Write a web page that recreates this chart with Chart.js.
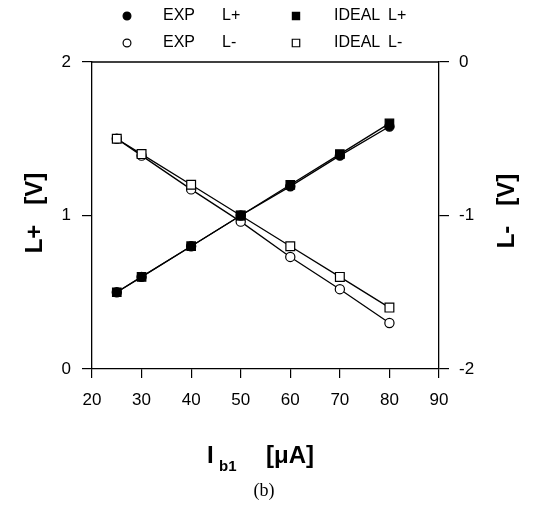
<!DOCTYPE html>
<html>
<head>
<meta charset="utf-8">
<script src="https://cdn.jsdelivr.net/npm/chart.js@4"></script>
<style>
  html, body { margin: 0; padding: 0; background: #fff; }
  canvas { display: block; }
</style>
</head>
<body>
<canvas id="chart" width="541" height="518"></canvas>
<script>
// bias current Ib1 [uA]
const ib1 = [25, 30, 40, 50, 60, 70, 80];
// L+ [V], left axis
const expLplus = [0.5, 0.6, 0.8, 1.0, 1.19, 1.39, 1.58];
const idealLplus = [0.5, 0.6, 0.8, 1.0, 1.2, 1.4, 1.6];
// L- [V], right axis
const expLminus = [-0.5, -0.61, -0.83, -1.04, -1.27, -1.48, -1.7];
const idealLminus = [-0.5, -0.6, -0.8, -1.0, -1.2, -1.4, -1.6];

const xTicks = [20, 30, 40, 50, 60, 70, 80, 90];
const leftTicks = [0, 1, 2];
const rightTicks = [-2, -1, 0];

const toPts = (ys) => ib1.map((x, i) => ({x: x, y: ys[i]}));
const FONT = 'Liberation Sans, Arial, sans-serif';

// legend + titles + frame top, drawn by hand
const extras = {
  id: 'extras',
  afterDraw(chart) {
    const ctx = chart.ctx;
    const a = chart.chartArea;
    ctx.save();
    ctx.strokeStyle = '#000';
    ctx.lineWidth = 1.3;
    ctx.beginPath();
    ctx.moveTo(a.left, a.top);
    ctx.lineTo(a.right, a.top);
    ctx.stroke();

    // legend
    const items = [
      {ds: 0, mx: 127, my: 16, tx: 163, t1: 'EXP', t2: 'L+', t2x: 222},
      {ds: 1, mx: 296, my: 16, tx: 334, t1: 'IDEAL', t2: 'L+', t2x: 388},
      {ds: 2, mx: 127, my: 43, tx: 163, t1: 'EXP', t2: 'L-', t2x: 222},
      {ds: 3, mx: 296, my: 43, tx: 334, t1: 'IDEAL', t2: 'L-', t2x: 388}
    ];
    ctx.font = '16px ' + FONT;
    ctx.textBaseline = 'middle';
    ctx.textAlign = 'left';
    items.forEach(it => {
      const d = chart.data.datasets[it.ds];
      ctx.fillStyle = d.pointBackgroundColor;
      ctx.strokeStyle = '#000';
      ctx.lineWidth = 1.2;
      Chart.helpers.drawPoint(ctx, {
        pointStyle: d.pointStyle,
        radius: d.pointRadius * 0.85,
        rotation: 0,
        borderWidth: 1.2
      }, it.mx, it.my);
      ctx.fillStyle = '#000';
      ctx.fillText(it.t1, it.tx, it.my);
      ctx.fillText(it.t2, it.t2x, it.my);
    });

    // axis titles
    ctx.fillStyle = '#000';
    ctx.font = 'bold 24px ' + FONT;
    ctx.textAlign = 'center';
    ctx.textBaseline = 'middle';
    ctx.save();
    ctx.translate(35, 213);
    ctx.rotate(-Math.PI / 2);
    ctx.fillText('L+   [V]', 0, 0);
    ctx.restore();
    ctx.save();
    ctx.translate(507, 211);
    ctx.rotate(-Math.PI / 2);
    ctx.fillText('L-   [V]', 0, 0);
    ctx.restore();

    // x title with subscript
    ctx.textBaseline = 'alphabetic';
    ctx.textAlign = 'left';
    ctx.font = 'bold 24px ' + FONT;
    ctx.fillText('I', 207, 463);
    ctx.font = 'bold 15px ' + FONT;
    ctx.fillText('b1', 219, 471);
    ctx.font = 'bold 24px ' + FONT;
    ctx.fillText('[\u03BCA]', 266, 463);

    ctx.font = '18px Liberation Serif, DejaVu Serif, serif';
    ctx.textAlign = 'center';
    ctx.fillText('(b)', 264, 496);
    ctx.restore();
  }
};

const tickFont = {family: FONT, size: 17};

new Chart(document.getElementById('chart'), {
  type: 'line',
  data: {
    datasets: [
      {
        label: 'EXP L+', data: toPts(expLplus), yAxisID: 'y', order: 1,
        pointStyle: 'circle', pointRadius: 4.6,
        pointBackgroundColor: '#000', pointBorderColor: '#000'
      },
      {
        label: 'IDEAL L+', data: toPts(idealLplus), yAxisID: 'y', order: 2,
        pointStyle: 'rect', pointRadius: 6,
        pointBackgroundColor: '#000', pointBorderColor: '#000'
      },
      {
        label: 'EXP L-', data: toPts(expLminus), yAxisID: 'y2', order: 4,
        pointStyle: 'circle', pointRadius: 4.6,
        pointBackgroundColor: '#fff', pointBorderColor: '#000'
      },
      {
        label: 'IDEAL L-', data: toPts(idealLminus), yAxisID: 'y2', order: 3,
        pointStyle: 'rect', pointRadius: 6.2,
        pointBackgroundColor: '#fff', pointBorderColor: '#000'
      }
    ].map(d => Object.assign({
      borderColor: '#000', borderWidth: 1.3, pointBorderWidth: 1.2,
      tension: 0, fill: false
    }, d))
  },
  options: {
    responsive: false,
    animation: false,
    devicePixelRatio: 1,
    layout: {padding: {top: 62, bottom: 0, left: 0, right: 0}},
    plugins: {legend: {display: false}, tooltip: {enabled: false}},
    scales: {
      x: {
        type: 'linear', min: 20, max: 90,
        afterBuildTicks: s => { s.ticks = xTicks.map(v => ({value: v})); },
        ticks: {font: tickFont, color: '#000', padding: 12, maxRotation: 0},
        grid: {drawOnChartArea: false, tickLength: 9, color: '#000', lineWidth: 1.2},
        border: {color: '#000', width: 1.3},
        afterFit: s => { s.height = 149; }
      },
      y: {
        position: 'left', min: 0, max: 2,
        afterBuildTicks: s => { s.ticks = leftTicks.map(v => ({value: v})); },
        ticks: {font: tickFont, color: '#000', padding: 11},
        grid: {drawOnChartArea: false, tickLength: 10, color: '#000', lineWidth: 1.2},
        border: {color: '#000', width: 1.3},
        afterFit: s => { s.width = 92; }
      },
      y2: {
        position: 'right', min: -2, max: 0,
        afterBuildTicks: s => { s.ticks = rightTicks.map(v => ({value: v})); },
        ticks: {font: tickFont, color: '#000', padding: 10},
        grid: {drawOnChartArea: false, tickLength: 10, color: '#000', lineWidth: 1.2},
        border: {color: '#000', width: 1.3},
        afterFit: s => { s.width = 102; }
      }
    }
  },
  plugins: [extras]
});
</script>
</body>
</html>
